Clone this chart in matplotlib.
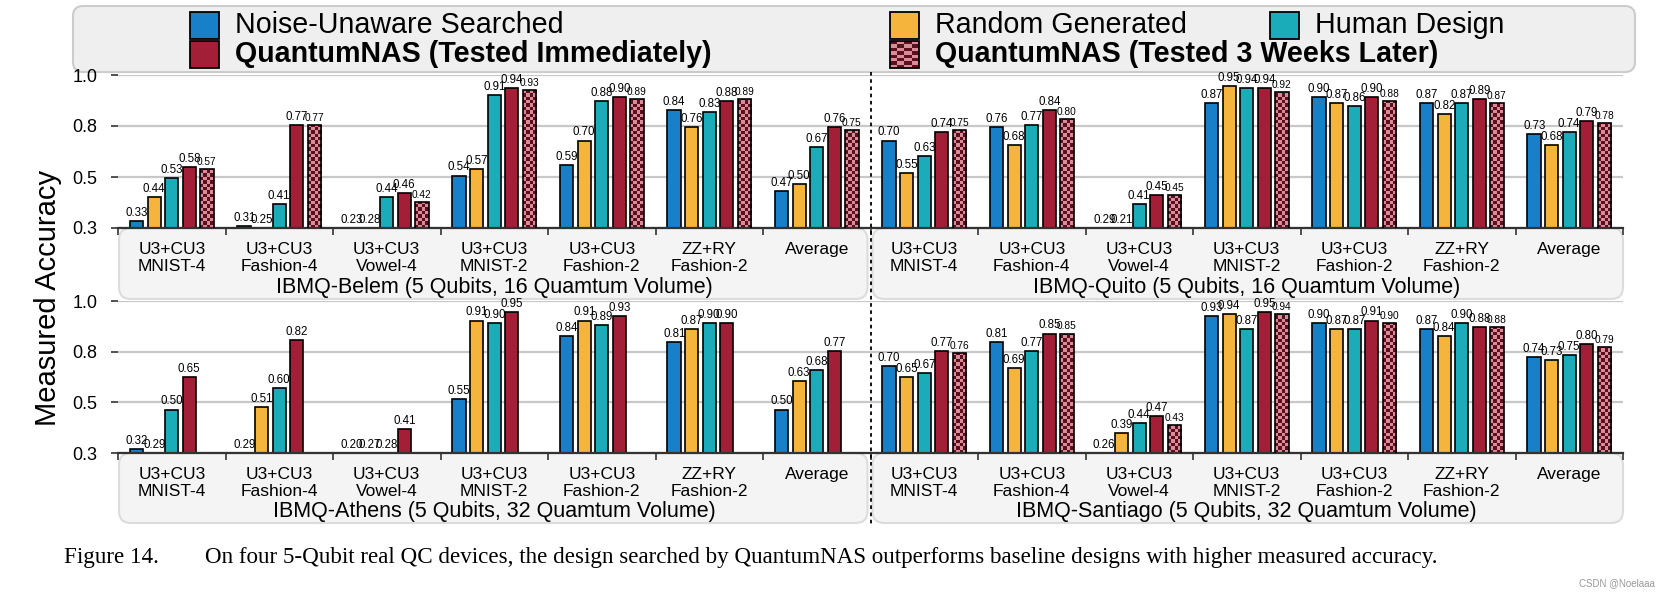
import numpy as np
import matplotlib
matplotlib.use("Agg")
import matplotlib.pyplot as plt
from matplotlib.patches import FancyBboxPatch, Rectangle
from matplotlib.colors import ListedColormap
from matplotlib.lines import Line2D
from matplotlib.ticker import FormatStrFormatter

plt.rcParams["font.family"] = ["Liberation Sans", "DejaVu Sans"]

groups = ["U3+CU3\nMNIST-4", "U3+CU3\nFashion-4", "U3+CU3\nVowel-4", "U3+CU3\nMNIST-2",
          "U3+CU3\nFashion-2", "ZZ+RY\nFashion-2", "Average"]
series = ["Noise-Unaware Searched", "Random Generated", "Human Design",
          "QuantumNAS (Tested Immediately)", "QuantumNAS (Tested 3 Weeks Later)"]

belem_title = "IBMQ-Belem (5 Qubits, 16 Quamtum Volume)"
belem_noise = [0.33, 0.31, 0.23, 0.54, 0.59, 0.84, 0.47]
belem_random = [0.44, 0.25, 0.28, 0.57, 0.70, 0.76, 0.50]
belem_human = [0.53, 0.41, 0.44, 0.91, 0.88, 0.83, 0.67]
belem_qnas = [0.58, 0.77, 0.46, 0.94, 0.90, 0.88, 0.76]
belem_qnas_3w = [0.57, 0.77, 0.42, 0.93, 0.89, 0.89, 0.75]

quito_title = "IBMQ-Quito (5 Qubits, 16 Quamtum Volume)"
quito_noise = [0.70, 0.76, 0.29, 0.87, 0.90, 0.87, 0.73]
quito_random = [0.55, 0.68, 0.21, 0.95, 0.87, 0.82, 0.68]
quito_human = [0.63, 0.77, 0.41, 0.94, 0.86, 0.87, 0.74]
quito_qnas = [0.74, 0.84, 0.45, 0.94, 0.90, 0.89, 0.79]
quito_qnas_3w = [0.75, 0.80, 0.45, 0.92, 0.88, 0.87, 0.78]

athens_title = "IBMQ-Athens (5 Qubits, 32 Quamtum Volume)"
athens_noise = [0.32, 0.29, 0.20, 0.55, 0.84, 0.81, 0.50]
athens_random = [0.29, 0.51, 0.27, 0.91, 0.91, 0.87, 0.63]
athens_human = [0.50, 0.60, 0.28, 0.90, 0.89, 0.90, 0.68]
athens_qnas = [0.65, 0.82, 0.41, 0.95, 0.93, 0.90, 0.77]
athens_qnas_3w = [None, None, None, None, None, None, None]

santiago_title = "IBMQ-Santiago (5 Qubits, 32 Quamtum Volume)"
santiago_noise = [0.70, 0.81, 0.26, 0.93, 0.90, 0.87, 0.74]
santiago_random = [0.65, 0.69, 0.39, 0.94, 0.87, 0.84, 0.73]
santiago_human = [0.67, 0.77, 0.44, 0.87, 0.87, 0.90, 0.75]
santiago_qnas = [0.77, 0.85, 0.47, 0.95, 0.91, 0.88, 0.80]
santiago_qnas_3w = [0.76, 0.85, 0.43, 0.94, 0.90, 0.88, 0.79]

caption = ("Figure 14.        On four 5-Qubit real QC devices, the design searched by QuantumNAS "
           "outperforms baseline designs with higher measured accuracy.")

rows = [
    [(belem_title, [belem_noise, belem_random, belem_human, belem_qnas, belem_qnas_3w]),
     (quito_title, [quito_noise, quito_random, quito_human, quito_qnas, quito_qnas_3w])],
    [(athens_title, [athens_noise, athens_random, athens_human, athens_qnas, athens_qnas_3w]),
     (santiago_title, [santiago_noise, santiago_random, santiago_human, santiago_qnas, santiago_qnas_3w])],
]

colors = ["#1880C8", "#F5B43C", "#1AACB9", "#A21F37"]
checker_cmap = ListedColormap(["#D98C97", "#5C0F1E"])

# layout in pixels
W, H = 1676, 596
AX_L, AX_R = 118, 1623
row_px = [(75, 228), (301, 453)]
box_bot = [299, 523]
YMIN, YMAX = 0.3, 1.0
SLOT, BAR_W = 0.163, 0.125
n_groups = len(groups) * 2

fig = plt.figure(figsize=(W / 100, H / 100), dpi=100)
bg = fig.add_axes([0, 0, 1, 1], zorder=0)
bg.axis("off")


def checker(ax, x0, x1, y0, y1, cx, cy):
    n_c = max(1, int(round((x1 - x0) / cx)))
    n_r = int(np.ceil(abs(y1 - y0) / cy))
    arr = np.add.outer(np.arange(n_r), np.arange(n_c)) % 2
    sign = 1 if y1 > y0 else -1
    return ax.imshow(arr, extent=(x0, x1, y0, y0 + sign * n_r * cy), cmap=checker_cmap,
                     interpolation="nearest", aspect="auto", zorder=2.2)


cell_px = BAR_W * (AX_R - AX_L) / n_groups / 4

for (top_px, bot_px), row, bb in zip(row_px, rows, box_bot):
    ax = fig.add_axes([AX_L / W, 1 - bot_px / H, (AX_R - AX_L) / W, (bot_px - top_px) / H], zorder=1)
    ax.set_facecolor("none")
    cy = cell_px * (YMAX - YMIN) / (bot_px - top_px)
    for k in range(len(series)):
        xs, hs = [], []
        for p, (title, data) in enumerate(row):
            for g, v in enumerate(data[k]):
                if v is None:
                    continue
                xs.append(p * len(groups) + g + 0.5 + (k - 2) * SLOT)
                hs.append(v)
        if not xs:
            continue
        if k < 4:
            ax.bar(xs, hs, BAR_W, color=colors[k], edgecolor="black", lw=1.2, zorder=2)
        else:
            bars = ax.bar(xs, hs, BAR_W, color="#D98C97", edgecolor="none", zorder=2)
            for b in bars:
                top = b.get_y() + b.get_height()
                if top > YMIN:
                    im = checker(ax, b.get_x(), b.get_x() + b.get_width(), YMIN, top, BAR_W / 4, cy)
                    im.set_clip_path(b)
            ax.bar(xs, hs, BAR_W, fill=False, edgecolor="black", lw=1.2, zorder=3)
        for x, v in zip(xs, hs):
            ax.annotate(f"{v:.2f}", (x, max(v, YMIN)), xytext=(0, 1.5), textcoords="offset points",
                        ha="center", va="bottom", fontsize=7.3 if k == 4 else 8.3, zorder=4)

    for p, (title, data) in enumerate(row):
        ax.annotate(title, xy=(p * len(groups) + len(groups) / 2, 0), xycoords=("data", "axes fraction"),
                    xytext=(0, -(bb - 12 - bot_px) * 0.72), textcoords="offset points",
                    ha="center", va="center", fontsize=15.5)

    ax.set_xlim(0, n_groups)
    ax.set_ylim(YMIN, YMAX)
    ax.set_xticks(np.arange(n_groups) + 0.5)
    ax.set_xticklabels(groups * 2, fontsize=12.5, linespacing=1.15)
    ax.set_xticks(np.arange(n_groups + 1), minor=True)
    ax.tick_params(axis="x", which="major", length=0, pad=10)
    ax.tick_params(axis="x", which="minor", length=5, width=1.2, color="#333333")
    ax.set_yticks(np.linspace(YMIN, YMAX, 4))
    ax.yaxis.set_major_formatter(FormatStrFormatter("%.1f"))
    ax.tick_params(axis="y", length=5, width=1.2, color="#333333", labelsize=13, pad=10)
    for s in ["left", "right", "top"]:
        ax.spines[s].set_visible(False)
    ax.spines["bottom"].set_color("#333333")
    ax.spines["bottom"].set_linewidth(1.6)
    ax.grid(axis="y", color="#c8c8c8", lw=1.6)
    ax.set_axisbelow(True)

    # grey label boxes under each device
    mid = (AX_L + AX_R) / 2
    for x0, x1 in [(AX_L + 1, mid - 3), (mid + 2, AX_R)]:
        bg.add_patch(FancyBboxPatch((x0, bot_px), x1 - x0, bb - bot_px,
                                    boxstyle="round,pad=0,rounding_size=12",
                                    fc="#f4f4f4", ec="#dcdcdc", lw=1.5))

# legend
bg.add_patch(FancyBboxPatch((73, 6), 1562, 66, boxstyle="round,pad=0,rounding_size=10",
                            fc="#efefef", ec="#cccccc", lw=1.5))
legend_slots = [(190, 25), (890, 25), (1270, 25), (190, 54), (890, 54)]
for k, ((lx, ly), name) in enumerate(zip(legend_slots, series)):
    if k < 4:
        bg.add_patch(Rectangle((lx, ly - 13), 29, 27, fc=colors[k], ec="black", lw=1.3))
    else:
        im = checker(bg, lx, lx + 29, ly - 13, ly + 14, 29 / 4, 27 / 8)
        r = Rectangle((lx, ly - 13), 29, 27, fc="none", ec="black", lw=1.3, zorder=3)
        bg.add_patch(r)
        im.set_clip_path(r)
    bg.text(lx + 45, ly, name, fontsize=20.6, va="center", ha="left",
            fontweight="bold" if k >= 3 else "normal")

bg.set_xlim(0, W)
bg.set_ylim(H, 0)

mid_frac = (AX_L + AX_R) / 2 / W
fig.add_artist(Line2D([mid_frac, mid_frac], [1 - 72 / H, 1 - 525 / H], transform=fig.transFigure,
                      color="black", lw=1.3, linestyle=(0, (2, 2)), zorder=5))

fig.text(48 / W, 1 - 298 / H, "Measured Accuracy", rotation=90, fontsize=21, ha="center", va="center")
fig.text(64 / W, 1 - 557 / H, caption, family="Liberation Serif", fontsize=16.6, ha="left", va="center")
fig.text(1655 / W, 1 - 583 / H, "CSDN @Noelaaa", fontsize=7, color="#999999", ha="right", va="center")

fig.savefig("out.png", dpi=100)
